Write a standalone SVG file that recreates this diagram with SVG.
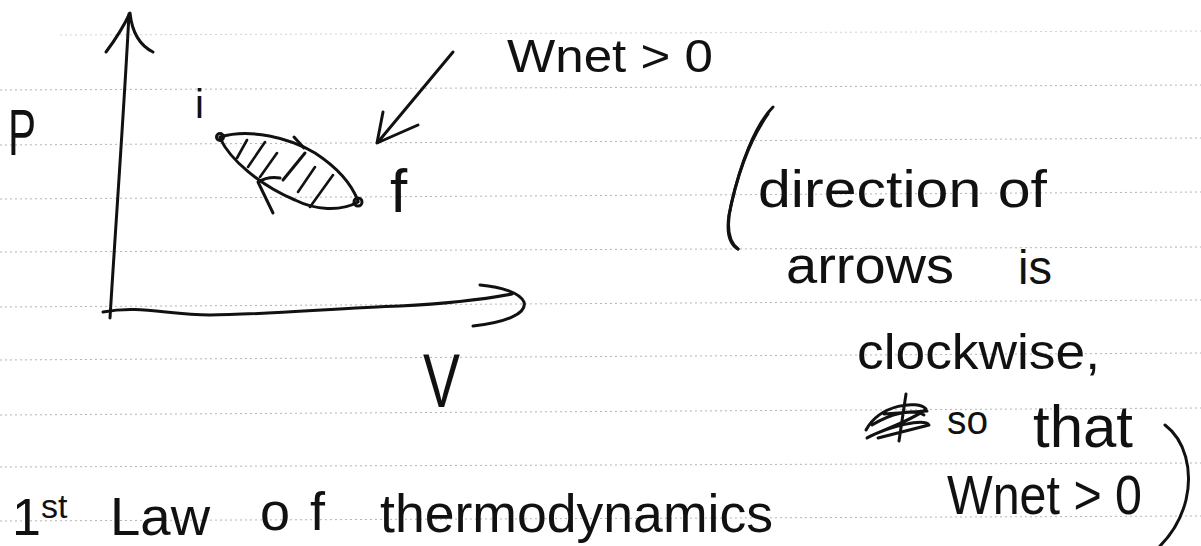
<svg xmlns="http://www.w3.org/2000/svg" width="1201" height="546" viewBox="0 0 1201 546">
<style>
.rule{stroke:#b4b4b4;stroke-width:1;stroke-dasharray:2 3;fill:none}
.ink{stroke:#111;stroke-width:3;fill:none;stroke-linecap:round;stroke-linejoin:round}
.hatch{stroke:#111;stroke-width:2.6;fill:none;stroke-linecap:round}
.hw{font-family:"Liberation Sans","DejaVu Sans",sans-serif;fill:#111}
</style>
<rect width="1201" height="546" fill="#fff"/>
<g id="ruled-lines">
<path class="rule" d="M60,35 L1201,31" opacity="0.6"/>
<path class="rule" d="M0,90 L1201,85"/>
<path class="rule" d="M0,145 L1201,138"/>
<path class="rule" d="M0,199 L1201,192"/>
<path class="rule" d="M0,252 L1201,247"/>
<path class="rule" d="M0,307 L1201,300"/>
<path class="rule" d="M0,360 L1201,353"/>
<path class="rule" d="M0,415 L1201,408"/>
<path class="rule" d="M0,467 L1201,463"/>
<path class="rule" d="M0,521 L1201,516"/>
</g>
<g id="axes">
<path class="ink" d="M129,14 C124,110 116,220 110,318"/>
<path class="ink" d="M106,52 Q121,32 130,13 Q133,42 153,52"/>
<path class="ink" d="M103,312 C140,305 168,315 210,315 C260,315 340,308 400,306 C440,304 480,300 512,294"/>
<path class="ink" d="M480,285 C502,287 520,293 524,302 C527,313 508,322 473,326"/>
<text class="hw" x="8" y="155" font-size="64" textLength="28" lengthAdjust="spacingAndGlyphs">P</text>
<text class="hw" x="423" y="407" font-size="76" textLength="37" lengthAdjust="spacingAndGlyphs">V</text>
</g>
<g id="cycle">
<path class="ink" d="M220,137 C250,128 290,138 315,153 C338,168 352,185 358,201"/>
<path class="ink" d="M220,138 C230,160 260,185 295,200 C315,210 340,212 358,202"/>
<circle cx="220" cy="137" r="3.5" class="ink"/>
<circle cx="358" cy="202" r="4" class="ink"/>
<path class="hatch" d="M247,140 L237,158 M265,142 L248,167 M277,153 L260,177 M315,167 L298,192 M333,175 L310,207"/>
<path class="ink" d="M305,153 L283,180" stroke-width="3.5"/>
<path class="ink" d="M294,137 L304,148" stroke-width="4"/>
<path class="ink" d="M273,213 L258,182 Q268,176 280,178"/>
<text class="hw" x="195" y="118" font-size="40">i</text>
<text class="hw" x="390" y="212" font-size="62">f</text>
</g>
<g id="connectors">
<path class="ink" d="M453,52 L378,142"/>
<path class="ink" d="M383,112 L377,143 L418,125" stroke-width="2.5"/>
</g>
<g id="label-wnet">
<text class="hw" x="507" y="72" font-size="46" textLength="206" lengthAdjust="spacingAndGlyphs">Wnet &gt; 0</text>
</g>
<g id="note">
<path class="ink" d="M773,107 C755,125 740,165 731,205 C726,227 728,241 738,249" stroke-width="4"/>
<path class="ink" d="M768,114 C748,142 736,180 729,215 C726,235 731,245 738,249" stroke-width="2"/>
<text class="hw" x="758" y="207" font-size="52" textLength="289" lengthAdjust="spacingAndGlyphs">direction of</text>
<text class="hw" x="786" y="283" font-size="52" textLength="168" lengthAdjust="spacingAndGlyphs">arrows</text>
<text class="hw" x="1018" y="284" font-size="48" textLength="34" lengthAdjust="spacingAndGlyphs">is</text>
<text class="hw" x="857" y="369" font-size="50" textLength="243" lengthAdjust="spacingAndGlyphs">clockwise,</text>
<path class="ink" d="M866,430 C880,404 918,400 926,409 C912,421 872,434 867,438 C890,426 924,418 929,425 L878,438 M906,394 L899,441 M884,414 L927,411 M872,425 C890,414 912,408 924,415" stroke-width="3.5"/>
<text class="hw" x="947" y="434" font-size="40" textLength="41" lengthAdjust="spacingAndGlyphs">so</text>
<text class="hw" x="1033" y="447" font-size="60" textLength="100" lengthAdjust="spacingAndGlyphs">that</text>
<text class="hw" x="947" y="514" font-size="56" textLength="195" lengthAdjust="spacingAndGlyphs">Wnet &gt; 0</text>
<path class="ink" d="M1165,425 C1185,440 1193,470 1186,500 C1181,520 1171,535 1160,546"/>
</g>
<g id="title">
<text class="hw" x="12" y="535" font-size="52">1<tspan font-size="34" dy="-17">st</tspan></text>
<text class="hw" x="110" y="535" font-size="54" textLength="100" lengthAdjust="spacingAndGlyphs">Law</text>
<text class="hw" x="260" y="530" font-size="54" textLength="65" lengthAdjust="spacing">of</text>
<text class="hw" x="380" y="532" font-size="54" textLength="393" lengthAdjust="spacingAndGlyphs">thermodynamics</text>
</g>
</svg>
